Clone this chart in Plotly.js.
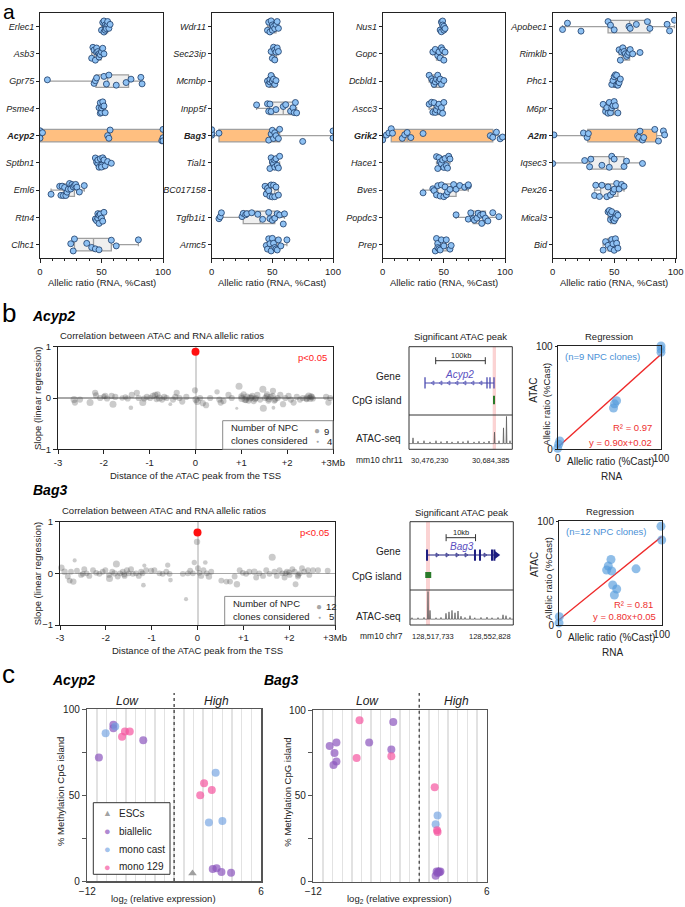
<!DOCTYPE html>
<html><head><meta charset="utf-8">
<script src="https://cdn.plot.ly/plotly-3.0.1.min.js"></script>
<style>html,body{margin:0;padding:0;background:#fff}#chart{width:685px;height:907px}</style>
</head><body><div id="chart"></div>
<script>
// ---------------- DATA ----------------
// Panel a: allelic ratios (RNA, %Cast) per NPC clone
const genesA1 = ['Erlec1','Asb3','Gpr75','Psme4','Acyp2','Sptbn1','Eml6','Rtn4','Clhc1'];
const valsA1 = [
  [50,51,52,52,53,53,54,54,55,55,56,57],
  [42,43,44,45,46,46,47,48,48,49,50,51,52],
  [6,44,45,46,52,54,56,62,70,74,82,83],
  [48,49,49,50,50,51,51,52,53],
  [0,0,0,2,55,56,57,99,100,100,100],
  [45,46,47,47,48,49,50,50,51,52,53,55,58],
  [9,16,17,18,19,20,21,22,23,24,25,26,27,28,29,30,32,36],
  [45,46,47,47,48,48,49,50,51,52],
  [25,27,28,38,42,45,48,58,62,80]
];
const hlA1 = 'Acyp2';
const genesA2 = ['Wdr11','Sec23ip','Mcmbp','Inpp5f','Bag3','Tial1','BC017158','Tgfb1i1','Armc5'];
const valsA2 = [
  [46,47,48,49,50,50,51,52,53,54,55],
  [49,50,51,52,52,53,54,55],
  [46,47,48,48,49,50,51,52,53],
  [37,46,47,48,49,53,59,61,65,67,68,69,70],
  [0,0,0,6,47,49,50,51,52,53,55,56,75,100,100],
  [48,49,50,51,52,52,53,54,55,56],
  [44,45,46,47,48,49,50,51,52,53,55],
  [6,7,8,25,26,28,29,33,38,42,47,48,50,52,54,56,59,60],
  [45,46,47,48,49,50,51,52,53,54,55,57,62]
];
const hlA2 = 'Bag3';
const genesA3 = ['Nus1','Gopc','Dcbld1','Ascc3','Grik2','Hace1','Bves','Popdc3','Prep'];
const valsA3 = [
  [47,48,48,49,49,50,50,51],
  [41,43,45,46,47,48,49,50,51],
  [38,40,41,42,43,44,45,46,47,48,50],
  [38,40,41,42,43,44,45,46,47,48,49,50],
  [0,3,5,7,8,16,18,20,23,33,88,90,93,96,98],
  [44,45,46,47,48,49,50,51,52,53,54,55],
  [33,41,42,44,45,47,48,50,51,52,53,55,58,60,63,67,70,70],
  [60,70,72,74,75,77,78,80,81,82,84,86,90,95],
  [43,44,45,45,46,47,48,50,52,55,56]
];
const hlA3 = 'Grik2';
const genesA4 = ['Apobec1','Rimklb','Phc1','M6pr','A2m','Iqsec3','Pex26','Mical3','Bid'];
const valsA4 = [
  [8,12,23,45,47,50,62,63,68,77,79,93,95,99],
  [54,55,56,57,58,59,60,61,62,63,65,71],
  [48,49,50,51,52,52,53,54,55],
  [41,43,44,45,46,47,48,49,50,51,53],
  [1,25,28,29,69,70,71,73,74,83,86,90,91],
  [0,26,30,31,40,46,48,50,58,60,73],
  [34,35,38,40,44,45,47,49,50,52,54,56,58],
  [45,46,47,47,48,49,50,51,52,53],
  [41,43,45,47,48,49,50,51,52,53]
];
const hlA4 = 'A2m';

// Panel b: ATAC peaks (distance from TSS in Mb, slope, number of NPC clones)
const acypDist = [-2.65,-2.63,-2.52,-2.30,-2.19,-2.17,-2.08,-2.00,-1.97,-1.93,-1.83,-1.80,-1.75,-1.60,-1.53,-1.48,-1.41,-1.39,-1.28,-1.24,-1.15,-1.12,-1.06,-0.99,-0.93,-0.88,-0.85,-0.83,-0.79,-0.73,-0.68,-0.63,-0.55,-0.49,-0.44,-0.41,-0.35,-0.29,-0.20,-0.01,0.01,0.04,0.10,0.16,0.23,0.32,0.47,0.52,0.55,0.61,0.72,0.79,0.90,0.95,1.00,1.01,1.05,1.08,1.10,1.12,1.16,1.19,1.22,1.24,1.27,1.30,1.32,1.35,1.41,1.47,1.48,1.52,1.55,1.56,1.59,1.60,1.64,1.68,1.69,1.70,1.72,1.74,1.79,1.85,1.91,1.96,2.03,2.08,2.14,2.21,2.28,2.34,2.42,2.43,2.47,2.50,2.52,2.54,2.56,2.85,2.90,2.94];
const acypSlope = [-0.03,-0.09,-0.03,-0.09,0.10,0.05,0.00,0.03,0.04,-0.01,0.04,-0.12,0.02,0.00,0.02,-0.01,-0.19,0.06,0.10,0.00,-0.09,-0.01,0.02,0.00,0.04,0.06,-0.02,0.07,0.00,-0.03,0.02,0.00,-0.12,-0.03,0.02,0.10,0.00,-0.07,0.02,0.15,-0.03,-0.07,0.00,-0.10,-0.14,0.00,0.12,-0.03,-0.09,-0.06,0.06,0.00,-0.20,0.23,0.03,-0.01,0.07,-0.03,-0.04,0.02,-0.05,0.00,0.01,0.04,-0.06,-0.02,0.00,0.06,-0.03,0.17,-0.20,0.00,0.03,0.07,-0.05,-0.02,0.02,0.04,0.14,-0.19,-0.05,-0.03,0.00,0.06,-0.12,0.00,0.04,-0.03,-0.09,0.02,-0.03,0.00,-0.02,0.00,0.04,-0.01,0.03,0.02,-0.01,0.02,-0.09,0.00];
const acypClones = [9,8,8,9,8,8,8,7,8,8,8,9,8,7,7,8,6,8,8,8,9,8,8,8,8,8,8,8,9,8,8,8,5,8,8,8,8,8,8,8,9,9,8,8,8,8,7,8,8,8,8,8,4,9,8,9,8,9,8,9,8,9,8,8,8,8,8,8,8,9,9,8,8,8,8,8,8,8,8,5,8,8,8,8,8,8,8,8,8,8,8,8,8,9,9,9,8,8,8,8,8,8];
const acypSig = {dist:[0], slope:[0.9]};

const bagDist = [-2.97,-2.90,-2.83,-2.79,-2.76,-2.71,-2.68,-2.63,-2.54,-2.50,-2.47,-2.42,-2.36,-2.28,-2.21,-2.14,-2.07,-2.01,-1.93,-1.92,-1.86,-1.81,-1.77,-1.74,-1.69,-1.63,-1.60,-1.59,-1.54,-1.50,-1.45,-1.41,-1.34,-1.28,-1.23,-1.20,-1.18,-1.16,-1.12,-1.01,-0.94,-0.83,-0.76,-0.68,-0.65,-0.61,-0.59,-0.32,-0.25,-0.21,-0.16,-0.10,-0.07,-0.01,0.01,0.04,0.08,0.13,0.17,0.20,0.25,0.30,0.52,0.63,0.71,0.81,0.86,0.92,0.99,1.06,1.13,1.24,1.28,1.35,1.43,1.50,1.57,1.63,1.68,1.73,1.79,1.85,1.90,1.92,1.95,2.00,2.01,2.07,2.12,2.14,2.19,2.20,2.23,2.28,2.33,2.41,2.44,2.52,2.63,2.84];
const bagSlope = [0.11,0.03,-0.06,-0.14,0.03,-0.16,0.25,0.05,-0.03,-0.01,0.08,0.00,-0.05,0.06,0.01,-0.01,0.03,0.06,-0.03,-0.10,0.03,0.00,0.18,-0.06,0.00,0.03,-0.02,-0.05,0.06,0.00,0.08,-0.01,0.00,-0.05,0.03,0.00,-0.23,0.15,0.06,0.05,0.06,0.00,-0.01,0.03,0.16,-0.01,-0.13,-0.01,-0.50,0.00,0.05,0.00,0.21,0.61,0.10,0.01,-0.05,0.06,0.21,0.00,-0.06,0.03,-0.14,-0.16,-0.16,-0.06,-0.21,0.06,0.01,-0.01,0.03,0.03,-0.08,0.00,-0.05,0.06,-0.01,0.31,0.03,-0.05,0.06,0.00,-0.08,0.00,0.03,0.02,-0.03,0.08,0.03,-0.21,-0.06,-0.03,0.00,0.10,0.03,0.06,-0.03,0.06,0.06,0.05];
const bagClones = [11,11,10,10,10,11,7,10,10,10,10,10,10,10,10,10,10,10,10,12,10,11,12,10,10,10,10,10,10,10,10,10,10,10,10,10,8,7,10,10,10,10,10,10,9,10,8,10,7,10,10,10,9,11,10,10,10,10,8,10,11,10,10,10,10,10,11,10,10,10,10,11,10,10,10,10,10,12,10,10,10,10,10,10,10,10,10,10,10,10,10,10,10,10,10,10,10,10,10,10];
const bagSig = {dist:[0], slope:[0.79]};

// Genome browser (mm10, Mb)
const acypRegion = [30.476230, 30.684385];
const acypGene = [30.5085, 30.6475];
const acypExons = [30.5085, 30.6334, 30.6394, 30.6475];
const acypIntronArrows = [30.5246, 30.5407, 30.5568, 30.5729, 30.5890, 30.6051, 30.6213];
const acypCpG = [30.6475];
const acypPeak = [30.6449, 30.6515];
const acypScale = [30.53, 30.63];
const acypAtacPos = [30.48429,30.49437,30.50646,30.51855,30.53064,30.54071,30.55280,30.56288,30.57497,30.58504,30.59512,30.60721,30.61728,30.62736,30.63743,30.64851,30.65758,30.66665,30.67268,30.67974];
const acypAtacVal = [0.2,0.08,0.1,0.06,0.1,0.07,0.09,0.06,0.08,0.07,0.1,0.06,0.08,0.06,0.09,0.4,0.1,0.55,0.95,0.1];

const bagRegion = [128.517733, 128.552828];
const bagGene = [128.52351, 128.54719];
const bagExons = [128.52351, 128.53981, 128.54151, 128.54559, 128.54640];
const bagIntronArrows = [128.52691, 128.53030, 128.53370, 128.53676, 128.54321];
const bagCpG = [128.52393];
const bagPeak = [128.52317, 128.52453];
const bagScale = [128.530, 128.540];
const bagAtacPos = [128.51841,128.52045,128.52249,128.52385,128.52453,128.52657,128.52826,128.52996,128.53098,128.53200,128.53302,128.53404,128.53506,128.53642,128.53812,128.53975,128.54185,128.54389,128.54559,128.54763,128.54933,128.55035,128.55170];
const bagAtacVal = [0.05,0.05,0.06,0.95,0.3,0.05,0.06,0.2,0.25,0.3,0.22,0.28,0.1,0.06,0.12,0.05,0.06,0.07,0.05,0.06,0.15,0.12,0.06];

// Regression (RNA vs ATAC allelic ratio, %Cast)
const acypRegRNA = [0,1,2,54,55,57,100,100,100];
const acypRegATAC = [1,5,8,40,44,47,94,97,100];
const acypFitX = [0,100], acypFitY = [2,92];
const bagRegRNA = [0.3,0,99.3,100,50.6,48,46.4,51.3,75,52.3,56.2,53.9];
const bagRegATAC = [8,2,95,81.7,63,56.7,52.9,51.9,54,38.5,34.6,28.8];
const bagFitX = [0,100], bagFitY = [5,85];

// Panel c: log2 relative expression vs % methylation of CpG island
const cAcyp = {
  esc:  {x:[-1.1], y:[4.5]},
  bial: {x:[-10.8,-9.3,-9.3,-6.2,1.0,1.4,1.9,2.9], y:[72,91,89,82,7,7.4,5.2,4.8]},
  cast: {x:[-10.1,-9.1,1.3,0.6,2.0], y:[86,90,63,34,35]},
  m129: {x:[-8.4,-8.1,-7.6,0.1,-0.3,0.9], y:[84,87,87,57,50,53]}
};
const cBag = {
  esc:  {x:[1.0], y:[6.5]},
  bial: {x:[-10.3,-9.6,-9.8,-9.6,-9.9,-6.2,-3.7,-3.9,0.8,0.9,1.0,1.1,1.2,0.7], y:[79,81,75,70,68,81,93,77,6,5,6,5.5,6,3.5]},
  cast: {x:[0.9,0.7], y:[38.5,33.4]},
  m129: {x:[-7.2,-7.5,-3.9,0.6,0.9,0.85], y:[94,72,73,55,29,30]}
};
const cThreshAcyp = -3, cThreshBag = -1;
const cXTicks = [-12,6];
const cYTicks = [0,50,100];
const bXTicks = [-3,-2,-1,0,1,2,3];
const bXTickText = ['-3','-2','-1','0','+1','+2','+3Mb'];
const cLegendNames = ['ESCs','biallelic','mono cast','mono 129'];

// ---------------- HELPERS ----------------
const F = 'Liberation Sans, Arial, Helvetica, sans-serif';
const W = 685, H = 907;
const PX = x => x / W, PY = y => 1 - y / H;
const DX = (a, b) => [a / W, b / W];
const DY = (top, bot) => [1 - bot / H, 1 - top / H];

function med(a){const m=a.length;return m%2?a[(m-1)/2]:(a[m/2-1]+a[m/2])/2;}
function stats(arr){
  const s=[...arr].sort((a,b)=>a-b), n=s.length, h=Math.floor(n/2);
  return {q1:med(s.slice(0,h)), md:med(s), q3:med(s.slice(n%2?h+1:h)), lo:s[0], hi:s[n-1]};
}
function spikes(pos, val, hw, region){
  const x=[region[0]], y=[0];
  pos.forEach((p,i)=>{x.push(p-hw,p,p+hw); y.push(0,val[i],0);});
  x.push(region[1]); y.push(0);
  return {x,y};
}
const traces = [];
const annotations = [];
const shapes = [];
function ann(text, x, y, o){
  o = o || {};
  annotations.push({text, x:PX(x), y:PY(y), xref:'paper', yref:'paper', showarrow:false,
    xanchor:o.xa||'center', yanchor:o.ya||'middle', textangle:o.rot||0,
    font:{family:F, size:o.s||9.5, color:o.c||'#222'}});
}
function rectPx(x0,y0,x1,y1,line,fill,layer){
  shapes.push({type:'rect', xref:'paper', yref:'paper', x0:PX(x0), x1:PX(x1), y0:PY(y1), y1:PY(y0),
    line:line, fillcolor:fill||'rgba(0,0,0,0)', layer:layer||'above'});
}
function linePx(x0,y0,x1,y1,line){
  shapes.push({type:'line', xref:'paper', yref:'paper', x0:PX(x0), x1:PX(x1), y0:PY(y0), y1:PY(y1), line:line, layer:'above'});
}
const axBase = () => ({showline:true, mirror:true, linecolor:'#222', linewidth:1, showgrid:false, zeroline:false,
  fixedrange:true, ticks:'outside', ticklen:4, tickcolor:'#222', tickangle:0, tickfont:{family:F, size:9.5, color:'#222'}});

const layout = {width:W, height:H, margin:{l:0,r:0,t:0,b:0}, paper_bgcolor:'#fff', plot_bgcolor:'rgba(0,0,0,0)',
  font:{family:F, size:9.5, color:'#222'}, boxmode:'overlay', showlegend:false, hovermode:false};

// ---------------- PANEL a ----------------
const panelsA = [
  {genes:genesA1, vals:valsA1, hl:hlA1, n:'', x0:40, x1:163},
  {genes:genesA2, vals:valsA2, hl:hlA2, n:'2', x0:211.7, x1:333},
  {genes:genesA3, vals:valsA3, hl:hlA3, n:'3', x0:382.7, x1:505},
  {genes:genesA4, vals:valsA4, hl:hlA4, n:'4', x0:552.7, x1:675.7}
];
panelsA.forEach(p=>{
  const xa='x'+p.n, ya='y'+p.n;
  [false,true].forEach(isHl=>{
    const idx=p.genes.map((g,i)=>i).filter(i=>(p.genes[i]===p.hl)===isHl);
    const st=idx.map(i=>stats(p.vals[i]));
    traces.push({type:'box', orientation:'h', xaxis:xa, yaxis:ya, y:idx.map(i=>p.genes[i]),
      q1:st.map(s=>s.q1), median:st.map(s=>s.md), q3:st.map(s=>s.q3),
      lowerfence:st.map(s=>s.lo), upperfence:st.map(s=>s.hi), boxpoints:false,
      fillcolor:isHl?'#ffbf80':'#efefef', line:{color:'#a0a0a0', width:1.3}, width:0.46, whiskerwidth:0.25,
      showlegend:false, hoverinfo:'skip'});
  });
  const xs=[], ys=[];
  p.genes.forEach((g,i)=>p.vals[i].forEach(v=>{xs.push(v); ys.push(g);}));
  traces.push({type:'box', orientation:'h', xaxis:xa, yaxis:ya, x:xs, y:ys, boxpoints:'all', jitter:1, pointpos:0,
    width:0.52, fillcolor:'rgba(0,0,0,0)', line:{color:'rgba(0,0,0,0)', width:0},
    marker:{size:6, color:'#8ec1f3', line:{color:'#1b3a66', width:0.8}}, showlegend:false, hoverinfo:'skip'});
  layout['xaxis'+p.n] = Object.assign(axBase(), {domain:DX(p.x0,p.x1), anchor:ya, range:[0,100],
    tickmode:'linear', tick0:0, dtick:50, minor:{dtick:10, ticks:'outside', ticklen:2, tickcolor:'#222'}});
  layout['yaxis'+p.n] = Object.assign(axBase(), {domain:DY(13,258.3), anchor:xa, type:'category',
    categoryorder:'array', categoryarray:p.genes, range:[p.genes.length-0.5,-0.5], ticklen:3,
    tickmode:'array', tickvals:p.genes,
    ticktext:p.genes.map(g=>g===p.hl?'<b><i>'+g+'</i></b>':'<i>'+g+'</i>'),
    tickfont:{family:F, size:9, color:'#222'}});
  ann('Allelic ratio (RNA, %Cast)', (p.x0+p.x1)/2, 283);
});
ann('a', 1, 12, {xa:'left', s:21, c:'#000'});

// ---------------- PANEL b ----------------
const rowsB = [
  {name:'Acyp2', dist:acypDist, slope:acypSlope, clones:acypClones, sig:acypSig, sz:c=>3+(c-4)*0.8,
   sx:'5', bx:'6', by:'6', ty:'7', rx:'8',
   sc:[58,333,346.7,449.3], br:[409,512.3,346.7,415,449.3], rg:[557.7,661,346,449.3],
   region:acypRegion, gene:acypGene, exons:acypExons, arrows:acypIntronArrows, arrowSym:'triangle-left-open',
   cpg:acypCpG, cpgSym:'line-ns-open', peak:acypPeak, scale:acypScale, scaleTxt:'100kb',
   atacPos:acypAtacPos, atacVal:acypAtacVal, hw:0.0009, geneColor:'#4a4ab0',
   rows:{scaleTxt:0.864, scale:0.795, label:0.60, gene:0.469, cpg:0.22},
   regX:acypRegRNA, regY:acypRegATAC, fitX:acypFitX, fitY:acypFitY,
   chr:'mm10 chr11', c0:'30,476,230', c1:'30,684,385', n:'(n=9 NPC clones)', r2:'R² = 0.97', eq:'y = 0.90x+0.02',
   legendN:['9','4'], dy:0},
  {name:'Bag3', dist:bagDist, slope:bagSlope, clones:bagClones, sig:bagSig, sz:c=>3+(c-5)*0.57,
   sx:'9', bx:'10', by:'10', ty:'11', rx:'12',
   sc:[60,335,521.7,625], br:[410,513.3,521.7,590,625], rg:[559,661.7,521,625],
   region:bagRegion, gene:bagGene, exons:bagExons, arrows:bagIntronArrows, arrowSym:'triangle-right-open',
   cpg:bagCpG, cpgSym:'square', peak:bagPeak, scale:bagScale, scaleTxt:'10kb',
   atacPos:bagAtacPos, atacVal:bagAtacVal, hw:0.00016, geneColor:'#1e1e80',
   rows:{scaleTxt:0.839, scale:0.766, label:0.644, gene:0.512, cpg:0.22},
   regX:bagRegRNA, regY:bagRegATAC, fitX:bagFitX, fitY:bagFitY,
   chr:'mm10 chr7', c0:'128,517,733', c1:'128,552,828', n:'(n=12 NPC clones)', r2:'R² = 0.81', eq:'y = 0.80x+0.05',
   legendN:['12','5'], dy:175}
];
rowsB.forEach(r=>{
  const d=r.dy;
  traces.push({type:'scatter', mode:'markers', xaxis:'x'+r.sx, yaxis:'y'+r.sx, x:r.dist, y:r.slope,
    marker:{size:r.clones.map(r.sz), color:'rgba(60,60,60,0.38)', line:{width:0}}, showlegend:false, cliponaxis:false});
  traces.push({type:'scatter', mode:'markers', xaxis:'x'+r.sx, yaxis:'y'+r.sx, x:r.sig.dist, y:r.sig.slope,
    marker:{size:8, color:'#ff1010', line:{width:0}}, showlegend:false, cliponaxis:false});
  layout['xaxis'+r.sx] = Object.assign(axBase(), {domain:DX(r.sc[0],r.sc[1]), anchor:'y'+r.sx, range:[-3,3],
    tickmode:'array', tickvals:bXTicks, ticktext:bXTickText, zeroline:true, zerolinecolor:'#d4d4d4', zerolinewidth:2});
  layout['yaxis'+r.sx] = Object.assign(axBase(), {domain:DY(r.sc[2],r.sc[3]), anchor:'x'+r.sx, range:[-1,1],
    tickmode:'array', tickvals:[-1,0,1], zeroline:true, zerolinecolor:'#a8a8a8', zerolinewidth:1.3});
  ann('<i><b>'+r.name+'</b></i>', 29.5+ (d?1.2:0), 316+d-(d?1:0), {xa:'left', s:14, c:'#000'});
  ann('Correlation between ATAC and RNA allelic ratios', r.sc[0], 335.7+d, {xa:'left'});
  ann('Slope (linear regression)', 37, (r.sc[2]+r.sc[3])/2, {rot:-90});
  ann('p<0.05', r.sc[1]-4, r.sc[2]+10.5, {xa:'right', c:'#ff2020'});
  ann('Distance of the ATAC peak from the TSS', (r.sc[0]+r.sc[1])/2, 475+d);
  rectPx(r.sc[0]+164.7, r.sc[3]-28.6, r.sc[1], r.sc[3], {color:'#8a8a8a', width:1}, '#fff');
  ann('Number of NPC', r.sc[0]+170.5, r.sc[3]-21.5, {xa:'left', s:9.5});
  ann('clones considered', r.sc[0]+170.5, r.sc[3]-9, {xa:'left', s:9.5});
  ann('●', r.sc[1]-15.7, r.sc[3]-18.5, {s:10, c:'rgba(90,90,90,0.55)'});
  ann(r.legendN[0], r.sc[1]-11, r.sc[3]-18.3, {xa:'left', s:9.5});
  ann('●', r.sc[1]-15.7, r.sc[3]-8.3, {s:5, c:'rgba(90,90,90,0.55)'});
  ann(r.legendN[1], r.sc[1]-(r.legendN[1].length>1?11:8.5), r.sc[3]-8.3, {xa:'left', s:9.5});

  // genome browser
  const gx='x'+r.bx, gy='y'+r.by, ay='y'+r.ty;
  const b=r.br;
  layout['xaxis'+r.bx] = {domain:DX(b[0],b[1]), range:r.region, visible:false, fixedrange:true, anchor:ay};
  layout['yaxis'+r.by] = {domain:DY(b[2],b[3]), range:[0,1], visible:false, fixedrange:true, anchor:gx};
  layout['yaxis'+r.ty] = {domain:DY(b[3],b[4]), range:[-0.2,1.0], visible:false, fixedrange:true, anchor:gx};
  shapes.push({type:'rect', xref:gx, yref:'paper', x0:r.peak[0], x1:r.peak[1], y0:PY(b[4]), y1:PY(b[2]),
    fillcolor:'rgba(245,150,150,0.42)', line:{width:0}, layer:'below'});
  rectPx(b[0], b[2], b[1], b[4], {color:'#333', width:1});
  linePx(b[0], b[3], b[1], b[3], {color:'#333', width:1});
  traces.push({type:'scatter', mode:'lines+markers', xaxis:gx, yaxis:gy, x:r.scale, y:r.scale.map(()=>r.rows.scale),
    line:{color:'#333', width:1}, marker:{symbol:'line-ns-open', size:5, color:'#333', line:{color:'#333', width:1}}, showlegend:false});
  annotations.push({text:r.scaleTxt, x:(r.scale[0]+r.scale[1])/2, y:r.rows.scaleTxt, xref:gx, yref:gy, showarrow:false,
    font:{family:F, size:7.5, color:'#222'}});
  traces.push({type:'scatter', mode:'lines', xaxis:gx, yaxis:gy, x:r.gene, y:r.gene.map(()=>r.rows.gene),
    line:{color:r.geneColor, width:1.1}, showlegend:false});
  traces.push({type:'scatter', mode:'markers', xaxis:gx, yaxis:gy, x:r.exons, y:r.exons.map(()=>r.rows.gene),
    marker:{symbol:'line-ns-open', size:8, color:r.geneColor, line:{color:r.geneColor, width:r.dy?2:1.3}}, showlegend:false});
  traces.push({type:'scatter', mode:'markers', xaxis:gx, yaxis:gy, x:r.arrows, y:r.arrows.map(()=>r.rows.gene),
    marker:{symbol:r.arrowSym, size:3.5, color:r.geneColor, line:{color:r.geneColor, width:0.8}}, showlegend:false});
  if (r.dy) {
    traces.push({type:'scatter', mode:'markers', xaxis:gx, yaxis:gy, x:[r.gene[1]], y:[r.rows.gene],
      marker:{symbol:'triangle-right', size:7, color:r.geneColor}, showlegend:false});
  }
  annotations.push({text:'<i>'+r.name+'</i>', x:(r.gene[0]+r.gene[1])/2, y:r.rows.label, xref:gx, yref:gy, showarrow:false,
    font:{family:F, size:10, color:'#5a4fc0'}});
  traces.push({type:'scatter', mode:'markers', xaxis:gx, yaxis:gy, x:r.cpg, y:r.cpg.map(()=>r.rows.cpg),
    marker:{symbol:r.cpgSym, size:r.dy?4:6, color:'#2a7a2a', line:{color:'#2a7a2a', width:2}}, showlegend:false});
  const sp=spikes(r.atacPos, r.atacVal, r.hw, r.region);
  traces.push({type:'scatter', mode:'lines', xaxis:gx, yaxis:ay, x:sp.x, y:sp.y, fill:'tozeroy',
    fillcolor:'rgba(90,90,90,0.6)', line:{color:'#555', width:0.7}, showlegend:false});
  const bc=(b[0]+b[1])/2;
  ann('Significant ATAC peak', bc, 336.7+d+(d?1:0), {s:9.5});
  ann('Gene', 402.5, (d?551.7:376), {xa:'right', s:10});
  ann('CpG island', 402.5, (d?576.7:400.7), {xa:'right', s:10});
  ann('ATAC-seq', 402.5, (d?616:439), {xa:'right', s:10});
  ann(r.chr, 405, b[4]+11, {xa:'right', s:8.5});
  ann(r.c0, b[0], b[4]+11, {xa:'left', s:7.5});
  ann(r.c1, b[1], b[4]+11, {xa:'right', s:7.5});

  // regression
  const rx='x'+r.rx, ry='y'+r.rx, g=r.rg;
  traces.push({type:'scatter', mode:'lines', xaxis:rx, yaxis:ry, x:r.fitX, y:r.fitY, line:{color:'#ee2a2a', width:1.4}, showlegend:false});
  traces.push({type:'scatter', mode:'markers', xaxis:rx, yaxis:ry, x:r.regX, y:r.regY,
    marker:{size:9, color:'rgba(85,155,220,0.65)', line:{width:0}}, showlegend:false, cliponaxis:false});
  layout['xaxis'+r.rx] = Object.assign(axBase(), {domain:DX(g[0],g[1]), anchor:ry, range:[0,100], tickmode:'array',
    tickvals:[0,100], ticklen:0, tickfont:{family:F, size:10, color:'#222'}});
  layout['yaxis'+r.rx] = Object.assign(axBase(), {domain:DY(g[2],g[3]), anchor:rx, range:[0,100], tickmode:'array',
    tickvals:[0,100], ticklen:2, tickfont:{family:F, size:10, color:'#222'}});
  const gc=(g[0]+g[1])/2;
  ann('Regression', gc, g[2]-9.5, {s:9.5});
  ann('ATAC', g[0]-25, g[2]+44, {rot:-90, s:10});
  ann('Allelic ratio (%Cast)', g[0]-11, g[2]+58, {rot:-90, s:9.5});
  ann(r.n, g[0]+5, g[2]+10.5, {xa:'left', s:9.5, c:'#4a90d6'});
  ann(r.r2, g[1]-7, g[3]-(d?21:22), {xa:'right', s:9.5, c:'#ee3030'});
  ann(r.eq, g[1]-(d?4:7), g[3]-(d?8.3:7), {xa:'right', s:9.5, c:'#ee3030'});
  ann('Allelic ratio (%Cast)', gc+1, g[3]+12.5, {s:10});
  ann('RNA', gc+2, g[3]+27, {s:10});
});
ann('b', 0, 313, {xa:'left', s:26, c:'#000'});

// ---------------- PANEL c ----------------
const cKeys = ['esc','bial','cast','m129'];
const cSty = {
  esc:{sym:'triangle-up', col:'rgba(150,150,150,0.9)', glyph:'▲', gs:9},
  bial:{sym:'circle', col:'rgba(140,85,190,0.7)', glyph:'●', gs:11},
  cast:{sym:'circle', col:'rgba(110,160,225,0.65)', glyph:'●', gs:11},
  m129:{sym:'circle', col:'rgba(245,85,160,0.7)', glyph:'●', gs:11}
};
const panelsC = [
  {name:'Acyp2', d:cAcyp, n:'13', x0:87.3, x1:261, y0:709.3, y1:881, th:cThreshAcyp, low:128, high:216.7, ytx:60, xt:163},
  {name:'Bag3', d:cBag, n:'14', x0:313.3, x1:486.7, y0:710, y1:881.7, th:cThreshBag, low:367.7, high:456, ytx:286.7, xt:400}
];
panelsC.forEach(p=>{
  const xa='x'+p.n, ya='y'+p.n;
  cKeys.forEach((k,i)=>{
    traces.push({type:'scatter', mode:'markers', xaxis:xa, yaxis:ya, x:p.d[k].x, y:p.d[k].y, name:cLegendNames[i],
      showlegend:false, cliponaxis:false,
      marker:{symbol:cSty[k].sym, size:k==='esc'?7.5:8, color:cSty[k].col, line:{width:0}}});
  });
  layout['xaxis'+p.n] = Object.assign(axBase(), {domain:DX(p.x0,p.x1), anchor:ya, range:[-12,6], tickmode:'array',
    tickvals:cXTicks, ticks:'', showgrid:false,
    minor:{dtick:1, tick0:0, showgrid:true, gridcolor:'#e2e2e2', gridwidth:1.4, ticks:''},
    linecolor:'#555', linewidth:1.5, tickfont:{family:F, size:10, color:'#222'}});
  layout['yaxis'+p.n] = Object.assign(axBase(), {domain:DY(p.y0,p.y1), anchor:xa, range:[0,100], tickmode:'array',
    tickvals:cYTicks, minor:{dtick:25, tick0:0, ticks:'outside', ticklen:4, tickcolor:'#555'},
    linecolor:'#555', linewidth:1.5, tickcolor:'#555', tickfont:{family:F, size:10, color:'#222'}});
  shapes.push({type:'line', xref:xa, yref:'paper', x0:p.th, x1:p.th, y0:PY(p.y1), y1:PY(693), line:{color:'#555', width:1.5, dash:'dot'}, layer:'above'});
  ann('<i>Low</i>', p.low, 700.7, {s:12});
  ann('<i>High</i>', p.high, 700.7, {s:12});
  ann('% Methylation CpG island', p.ytx, 792, {rot:-90, s:9.5});
  ann('log<sub>2</sub> (relative expression)', p.xt, 899, {s:9.5});
  ann('<i><b>'+p.name+'</b></i>', p.name==='Acyp2'?50:261.7, 680, {xa:'left', s:14, c:'#000'});
});
rectPx(93.3, 802.7, 170, 874.3, {color:'#333', width:1}, '#fff');
const legRowY = [813.3, 831, 849, 866.7];
cKeys.forEach((k,i)=>{
  ann(cSty[k].glyph, 107.3, legRowY[i], {s:cSty[k].gs, c:cSty[k].col});
  ann(cLegendNames[i], 116.7, legRowY[i], {xa:'left', s:10});
});
ann('c', 0, 673.5, {xa:'left', s:26, c:'#000'});

layout.annotations = annotations;
layout.shapes = shapes;
Plotly.newPlot('chart', traces, layout, {staticPlot:true, displayModeBar:false});
</script></body></html>
